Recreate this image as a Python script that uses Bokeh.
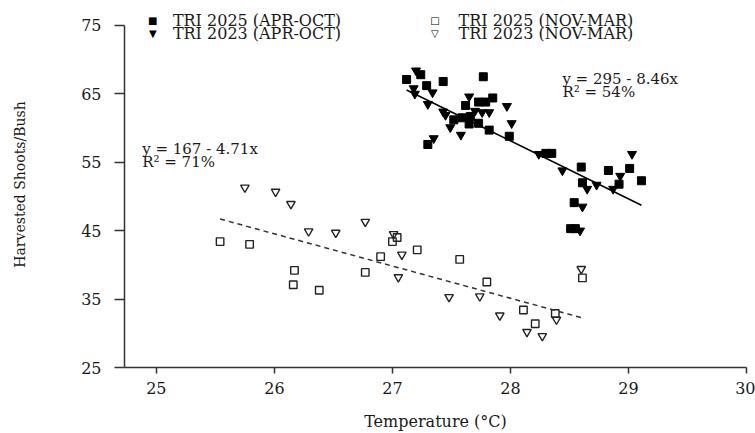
from bokeh.plotting import figure
from bokeh.models import Range1d, FixedTicker, Label
from bokeh.embed import file_html
from bokeh.resources import INLINE

# ---------------- data ----------------
# TRI 2025 (APR-OCT) - filled squares
apr25_temp = [27.12, 27.24, 27.29, 27.43, 27.77, 27.62, 27.73, 27.79, 27.85, 27.52,
              27.59, 27.66, 27.65, 27.73, 27.82, 27.99, 27.30, 28.30, 28.35, 28.60,
              28.83, 29.01, 29.11, 28.61, 28.92, 28.54, 28.51, 28.55]
apr25_shoots = [67.1, 67.8, 66.2, 66.8, 67.5, 63.3, 63.8, 63.8, 64.4, 61.2,
                61.5, 61.7, 60.6, 60.7, 59.7, 58.8, 57.6, 56.3, 56.3, 54.3,
                53.8, 54.1, 52.3, 52.0, 51.8, 49.1, 45.3, 45.3]

# TRI 2023 (APR-OCT) - filled inverted triangles
apr23_temp = [27.20, 27.18, 27.19, 27.34, 27.30, 27.65, 27.43, 27.45, 27.70, 27.76,
              27.82, 27.97, 28.01, 27.49, 27.58, 27.35, 28.24, 29.03, 28.44, 28.93,
              28.65, 28.73, 28.87, 28.61, 28.59]
apr23_shoots = [68.4, 65.8, 65.0, 65.2, 63.5, 64.6, 62.4, 61.9, 62.5, 62.3,
                62.3, 63.2, 60.7, 60.1, 59.0, 58.5, 56.2, 56.2, 53.8, 53.0,
                51.1, 51.7, 51.1, 48.5, 45.0]

# TRI 2025 (NOV-MAR) - open squares
nov25_temp = [25.54, 25.79, 26.17, 26.16, 26.38, 26.77, 26.90, 27.00, 27.04, 27.21,
              27.57, 27.80, 28.11, 28.38, 28.21, 28.61]
nov25_shoots = [43.4, 43.0, 39.2, 37.1, 36.3, 38.9, 41.2, 43.4, 44.0, 42.2,
                40.8, 37.5, 33.4, 32.9, 31.4, 38.1]

# TRI 2023 (NOV-MAR) - open inverted triangles
nov23_temp = [25.75, 26.01, 26.14, 26.29, 26.52, 26.77, 27.01, 27.08, 27.05, 27.48,
              27.74, 27.91, 28.14, 28.27, 28.39, 28.60]
nov23_shoots = [51.3, 50.7, 48.9, 44.9, 44.7, 46.3, 44.5, 41.5, 38.2, 35.3,
                35.4, 32.6, 30.2, 29.6, 32.0, 39.4]

# regression equations shown in the chart
warm_intercept, warm_slope = 295.0, -8.46
cool_intercept, cool_slope = 167.0, -4.71

x_ticks = [25, 26, 27, 28, 29, 30]
y_ticks = [25, 35, 45, 55, 65, 75]

legend_labels = ["TRI 2025 (APR-OCT)", "TRI 2023 (APR-OCT)",
                 "TRI 2025 (NOV-MAR)", "TRI 2023 (NOV-MAR)"]
warm_eq = ["y = 295 - 8.46x", "R\u00b2 = 54%"]
cool_eq = ["y = 167 - 4.71x", "R\u00b2 = 71%"]

SERIF = "DejaVu Serif"
INK = "#1a1a1a"

p = figure(width=755, height=433, output_backend="svg", toolbar_location=None,
           x_range=Range1d(24.73, 30.0), y_range=Range1d(25, 78.5),
           min_border_left=124, min_border_right=9, min_border_top=1,
           min_border_bottom=66)
p.outline_line_color = None
p.xgrid.visible = False
p.ygrid.visible = False
p.background_fill_color = "white"
p.border_fill_color = "white"

# axes
p.xaxis.ticker = FixedTicker(ticks=x_ticks)
p.yaxis.ticker = FixedTicker(ticks=y_ticks)
p.yaxis.bounds = (25, 75)
for ax in (p.xaxis[0], p.yaxis[0]):
    ax.axis_line_color = "#333333"
    ax.axis_line_width = 1.5
    ax.major_tick_line_color = "#333333"
    ax.major_tick_line_width = 1.5
    ax.minor_tick_line_color = None
    ax.major_tick_in = 0
    ax.major_label_text_font = SERIF
    ax.major_label_text_font_size = "16px"
    ax.major_label_text_color = INK
    ax.axis_label_text_font = SERIF
    ax.axis_label_text_font_style = "normal"
    ax.axis_label_text_color = INK

p.xaxis.major_tick_out = 6
p.xaxis.major_label_standoff = 8
p.xaxis.axis_label = "Temperature (\u00b0C)"
p.xaxis.axis_label_text_font_size = "16px"
p.xaxis.axis_label_standoff = 15

p.yaxis.major_tick_out = 10
p.yaxis.major_label_standoff = 13
p.yaxis.axis_label = "Harvested Shoots/Bush"
p.yaxis.axis_label_text_font_size = "14px"
p.yaxis.axis_label_standoff = 50

# scatter series
p.scatter(apr25_temp, apr25_shoots, marker="square", size=8,
          fill_color="black", line_color="black")
p.scatter(apr23_temp, apr23_shoots, marker="inverted_triangle", size=9,
          fill_color="black", line_color="black")
p.scatter(nov25_temp, nov25_shoots, marker="square", size=7.5,
          fill_color=None, line_color="#222222", line_width=1.4)
p.scatter(nov23_temp, nov23_shoots, marker="inverted_triangle", size=8.5,
          fill_color=None, line_color="#222222", line_width=1.4)

# fitted lines
warm_x = [min(apr25_temp + apr23_temp), max(apr25_temp + apr23_temp)]
warm_y = [warm_intercept + warm_slope * t for t in warm_x]
cool_x = [min(nov25_temp + nov23_temp), max(nov25_temp + nov23_temp)]
cool_y = [cool_intercept + cool_slope * t for t in cool_x]
p.line(warm_x, warm_y, line_color="black", line_width=1.6)
p.line(cool_x, cool_y, line_color="#333333", line_width=1.5, line_dash="5 4")

# equation annotations
def add_text(x, y, txt, size="15px", font=SERIF):
    p.add_layout(Label(x=x, y=y, text=txt, text_font=font,
                       text_font_size=size, text_color=INK,
                       text_baseline="middle", text_align="left"))

add_text(28.44, 67.1, warm_eq[0])
add_text(28.44, 65.2, warm_eq[1])
add_text(24.88, 56.9, cool_eq[0])
add_text(24.88, 55.0, cool_eq[1])

# legend (two columns, drawn above the data)
legend_marks = ["\u25a0", "\u25bc", "\u25a1", "\u25bd"]
legend_pos = [(24.97, 25.14, 75.65), (24.97, 25.14, 73.8),
              (27.36, 27.56, 75.65), (27.36, 27.56, 73.8)]
for mark, lab, (mx, tx, ly) in zip(legend_marks, legend_labels, legend_pos):
    p.add_layout(Label(x=mx, y=ly, text=mark, text_font="DejaVu Sans",
                       text_font_size="10px", text_color="black",
                       text_baseline="middle", text_align="center"))
    add_text(tx, ly, lab, size="16px")

open("out.html", "w").write(file_html(p, INLINE))
